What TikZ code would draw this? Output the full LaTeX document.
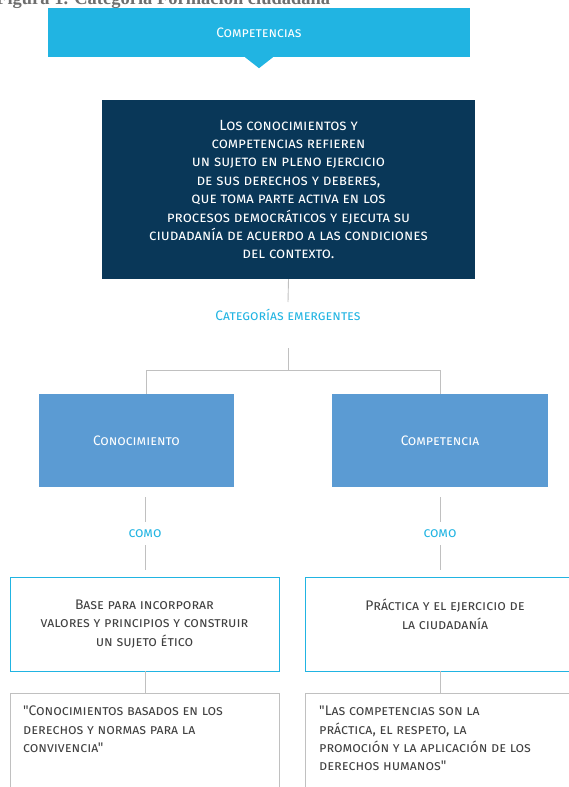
\documentclass[tikz,border=0pt]{standalone}
\usepackage{fontspec}
\newfontfamily\boxfont{Fira Sans}
\newfontfamily\titlefont{Liberation Serif}
\usepackage{tikz}
\usepackage{xcolor}
\usetikzlibrary{positioning,calc}
\definecolor{bannerblue}{RGB}{33,180,226}
\definecolor{navybox}{RGB}{9,55,88}
\definecolor{catblue}{RGB}{91,155,211}
\definecolor{linegray}{RGB}{192,192,192}
\definecolor{titlegray}{RGB}{110,110,110}

\tikzset{
  sc/.style={font=\boxfont\fontsize{13.7}{16}\selectfont\scshape},
  banner/.style={sc,fill=bannerblue,text=white,minimum width=422pt,minimum height=49pt,inner sep=0pt},
  darkbox/.style={fill=navybox,text=white,minimum width=373pt,minimum height=179pt,align=center,inner sep=0pt,font=\boxfont\fontsize{14.8}{18.4}\selectfont\scshape},
  catbox/.style={sc,fill=catblue,text=white,minimum height=93pt,inner sep=0pt},
  midbox/.style={draw=bannerblue,line width=0.8pt,fill=white,text=black!75,minimum height=94pt,align=center,inner sep=0pt,font=\boxfont\fontsize{13.9}{18.5}\selectfont\scshape},
  quotetext/.style={text=black!75,align=left,inner sep=0pt,font=\boxfont\fontsize{13.9}{18.3}\selectfont\scshape},
  tag/.style={sc,text=bannerblue},
  link/.style={linegray,line width=0.9pt}
}

\begin{document}
\begin{tikzpicture}[x=1pt,y=-1pt]
  \useasboundingbox (0,0) rectangle (569,787);
  \clip (0,0) rectangle (569,787);

  % title, cut at the top edge
  \node[anchor=base west,inner sep=0pt,text=titlegray,font=\titlefont\bfseries\fontsize{18.5}{18.5}\selectfont] (title) at (-4,4.5) {Figura 1. Categoría Formación ciudadana};

  % banner with pointer
  \node[banner] (comp) at (259,32.5) {Competencias};
  \fill[bannerblue] ($(comp.south)+(-14,0)$) -- ($(comp.south)+(0,11)$) -- ($(comp.south)+(14,0)$) -- cycle;

  % main box
  \node[darkbox] (def) at (288.5,189.5) {Los conocimientos y\\ competencias refieren\\ un sujeto en pleno ejercicio\\ de sus derechos y deberes,\\ que toma parte activa en los\\ procesos democráticos y ejecuta su\\ ciudadanía de acuerdo a las condiciones\\ del contexto.};

  % emergent categories
  \node[tag] (emerg) at (288,315) {Categorías emergentes};
  \coordinate (emergtop) at (288,302);
  \coordinate (emergbot) at (288,348);
  \coordinate (fork) at (288,370);
  \draw[link] (def.south) -- (emergtop);
  \draw[link] (emergbot) -- (fork);

  \node[catbox,minimum width=195pt] (know) at (136.5,440.5) {Conocimiento};
  \node[catbox,minimum width=216pt] (skill) at (440,440.5) {Competencia};
  \draw[link] (fork) -| ($(know.north)+(10,0)$);
  \draw[link] (fork) -| (skill.north);

  % como
  \node[tag] (askn) at (145,533.5) {como};
  \node[tag] (assk) at (440,533.5) {como};

  \node[midbox,minimum width=269pt] (base) at (144.5,624) {Base para incorporar\\ valores y principios y construir\\ un sujeto ético};
  \node[midbox,minimum width=280pt,text depth=20pt] (prac) at (445,624) {Práctica y el ejercicio de\\ la ciudadanía};

  \draw[link] ($(know.south)+(8.5,10)$) -- ($(askn.north)+(0,-4)$);
  \draw[link] ($(askn.south)+(0,4)$) -- ($(base.north)+(0.5,-7)$);
  \draw[link] ($(skill.south)+(0,10)$) -- ($(assk.north)+(0,-4)$);
  \draw[link] ($(assk.south)+(0,4)$) -- ($(prac.north)+(-5,-7)$);

  % quotes
  \draw[link] (10,693) rectangle (279,800);
  \draw[link] (305,693) rectangle (580,800);
  \node[quotetext,anchor=north west] (qknow) at (23,706) {"Conocimientos basados en los\\ derechos y normas para la\\ convivencia"};
  \node[quotetext,anchor=north west] (qskill) at (319,706) {"Las competencias son la\\ práctica, el respeto, la\\ promoción y la aplicación de los\\ derechos humanos"};
  \draw[link] ($(base.south)+(0.5,0)$) -- ++(0,22);
  \draw[link] ($(prac.south)+(-5,0)$) -- ++(0,22);
\end{tikzpicture}
\end{document}
